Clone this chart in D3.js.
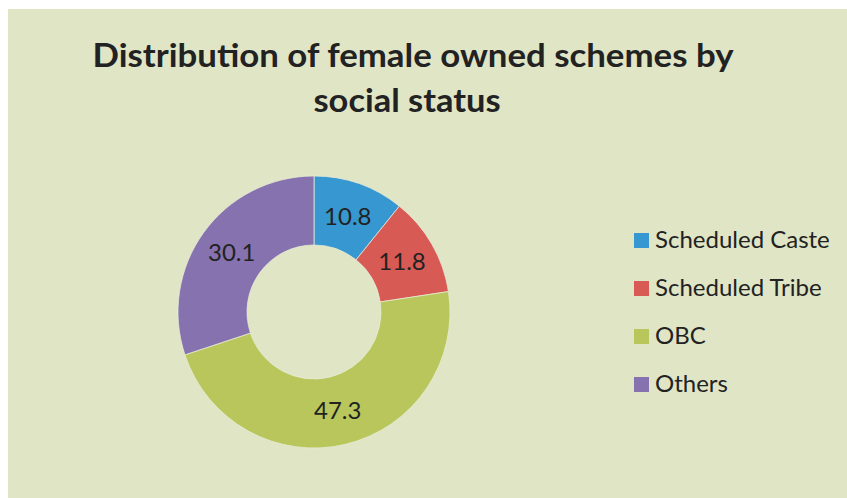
<!DOCTYPE html>
<html>
<head>
<meta charset="utf-8">
<script src="https://cdn.jsdelivr.net/npm/d3@7"></script>
<style>
  body { margin: 0; background: #ffffff; }
  svg { display: block; }
</style>
</head>
<body>
<script>
var width = 847;
var height = 498;

var categories = ["Scheduled Caste", "Scheduled Tribe", "OBC", "Others"];
var values = [10.8, 11.8, 47.3, 30.1];
var colors = ["#3797d0", "#d85a55", "#b8c65c", "#8672af"];
var titleLines = ["Distribution of female owned schemes by", "social status"];
var titleWidths = [641, 187];
var titleCenters = [413, 407];

var svg = d3.select("body").append("svg")
  .attr("width", width)
  .attr("height", height);

// chart area background
svg.append("rect")
  .attr("x", 8).attr("y", 9)
  .attr("width", width - 8).attr("height", height - 9)
  .attr("fill", "#e0e5c6");

// title
svg.selectAll("text.title").data(titleLines).enter().append("text")
  .attr("class", "title")
  .attr("x", function (d, i) { return titleCenters[i]; })
  .attr("y", function (d, i) { return 67 + i * 45; })
  .attr("text-anchor", "middle")
  .attr("font-family", "Lato, 'Open Sans', sans-serif")
  .attr("font-weight", "bold")
  .attr("font-size", 32)
  .attr("textLength", function (d, i) { return titleWidths[i]; })
  .attr("lengthAdjust", "spacingAndGlyphs")
  .attr("fill", "#222222")
  .text(function (d) { return d; });

var cx = 314, cy = 312;
var outerR = 136, innerR = 67;

var pie = d3.pie().sort(null).value(function (d) { return d; });
var arc = d3.arc().innerRadius(innerR).outerRadius(outerR);

var g = svg.append("g").attr("transform", "translate(" + cx + "," + cy + ")");
var slices = g.selectAll("path").data(pie(values));

slices.enter().append("path")
  .attr("d", arc)
  .attr("fill", function (d, i) { return colors[i]; })
  .attr("stroke", "#e8ecd6")
  .attr("stroke-width", 0.75);

g.selectAll("text").data(pie(values)).enter().append("text")
  .attr("transform", function (d) { return "translate(" + arc.centroid(d) + ")"; })
  .attr("text-anchor", "middle")
  .attr("dy", "0.36em")
  .attr("font-family", "Lato, 'Open Sans', sans-serif")
  .attr("font-size", 24)
  .attr("fill", "#222222")
  .text(function (d) { return d.data.toFixed(1); });

// legend
var legend = svg.append("g").attr("transform", "translate(634,0)");
var rows = legend.selectAll("g").data(categories).enter().append("g")
  .attr("transform", function (d, i) { return "translate(0," + (240 + i * 48) + ")"; });

rows.append("rect")
  .attr("x", 0).attr("y", -7)
  .attr("width", 15).attr("height", 15)
  .attr("fill", function (d, i) { return colors[i]; });

rows.append("text")
  .attr("x", 21)
  .attr("y", -1)
  .attr("dy", "0.36em")
  .attr("font-family", "Lato, 'Open Sans', sans-serif")
  .attr("font-size", 24)
  .attr("fill", "#222222")
  .text(function (d) { return d; });
</script>
</body>
</html>
